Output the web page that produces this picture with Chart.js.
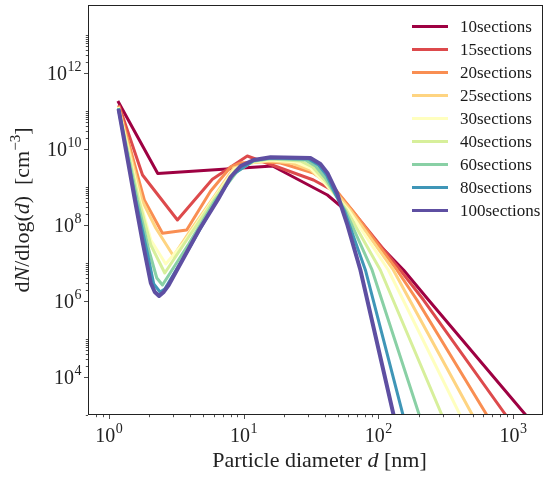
<!DOCTYPE html>
<html>
<head>
<meta charset="utf-8">
<script src="https://cdn.jsdelivr.net/npm/chart.js@4.4.0/dist/chart.umd.min.js"></script>
<style>
html, body { margin: 0; padding: 0; background: #fff; }
#wrap { position: relative; width: 544px; height: 477px; }
#legend { position: absolute; left: 412px; top: 15px; font-family: "Liberation Serif", serif; font-size: 17px; color: #1a1a1a; }
#legend .item { display: flex; align-items: center; height: 23px; white-space: nowrap; }
#legend .swatch { width: 36px; height: 3px; margin-right: 12px; }
</style>
</head>
<body>
<div id="wrap">
  <canvas id="chart" width="544" height="477"></canvas>
  <div id="legend"></div>
</div>
<script>
// series labels and colours (Spectral, 9 samples)
const sectionLabels = ['10sections', '15sections', '20sections', '25sections', '30sections', '40sections', '60sections', '80sections', '100sections'];
const sectionColors = ['#9e0142', '#dd4a4c', '#f98e52', '#fed481', '#ffffbf', '#d7ef9b', '#89d0a5', '#3f96b7', '#5e4fa2'];

// particle diameter [nm] and dN/dlog(d) [cm^-3]
const x10 = [1.166, 2.306, 16.40, 41.88, 58.63, 153.9, 235.9, 1242];
const y10 = [1.83e11, 2.26e9, 3.57e9, 6.15e8, 2.24e8, 6.55e6, 1.06e6, 1e3];

const x15 = [1.186, 1.777, 3.228, 5.864, 10.65, 33.00, 49.70, 65.28, 145.5, 216.6, 883.0];
const y15 = [1.44e11, 2.07e9, 1.355e8, 1.60e9, 6.55e9, 1.53e9, 6.95e8, 2.20e8, 6.55e6, 1.06e6, 1e3];

const x20 = [1.180, 1.832, 2.499, 3.781, 5.696, 8.013, 9.505, 13.36, 18.80, 33.00, 46.42, 65.28, 137.5, 193.5, 638.6];
const y20 = [1.355e11, 4.55e8, 6.05e7, 7.38e7, 7.85e8, 3.36e9, 4.29e9, 4.69e9, 4.29e9, 2.34e9, 1.0e9, 2.24e8, 6.55e6, 1.06e6, 1e3];

const x25 = [1.176, 1.756, 2.229, 3.015, 4.048, 6.026, 8.433, 11.86, 15.85, 22.29, 31.33, 44.07, 62.06, 129.2, 499.3];
const y25 = [1.274e11, 4.55e8, 8.34e7, 1.53e7, 7.38e7, 5.46e8, 3.16e9, 4.41e9, 4.83e9, 4.29e9, 2.80e9, 1.06e9, 2.48e8, 6.55e6, 1e3];

const x30 = [1.176, 1.697, 2.047, 2.643, 3.533, 5.893, 8.577, 11.86, 15.85, 24.28, 31.33, 40.47, 59.95, 118.6, 404.6];
const y30 = [1.274e11, 4.55e8, 4.03e7, 9.42e6, 3.16e7, 4.55e8, 2.98e9, 4.55e9, 5.14e9, 4.55e9, 3.16e9, 1.20e9, 2.48e8, 6.55e6, 1e3];

const x40 = [1.176, 1.668, 2.047, 2.600, 3.913, 5.996, 8.728, 11.86, 15.85, 26.42, 32.44, 40.47, 57.94, 103.5, 296.3];
const y40 = [1.20e11, 4.55e8, 2.98e7, 5.46e6, 4.83e7, 4.55e8, 2.80e9, 4.69e9, 5.46e9, 4.83e9, 3.36e9, 1.44e9, 2.48e8, 6.55e6, 1e3];

const x60 = [1.176, 1.626, 1.979, 2.268, 2.499, 3.913, 6.098, 8.874, 11.86, 15.85, 28.78, 34.12, 40.47, 57.02, 89.81, 201.3];
const y60 = [1.20e11, 4.55e8, 2.20e7, 4.03e6, 2.64e6, 3.16e7, 4.29e8, 2.48e9, 4.83e9, 5.62e9, 5.14e9, 3.57e9, 1.73e9, 2.34e8, 6.55e6, 1e3];

const x80 = [1.176, 1.585, 1.945, 2.154, 2.399, 2.600, 3.913, 6.256, 8.433, 11.86, 15.85, 30.30, 35.94, 41.19, 48.86, 56.01, 80.15, 152.4];
const y80 = [1.164e11, 4.55e8, 1.62e7, 2.80e6, 1.73e6, 2.07e6, 2.34e7, 4.29e8, 2.20e9, 4.98e9, 5.79e9, 5.46e9, 3.79e9, 2.07e9, 5.79e8, 2.34e8, 6.55e6, 1e3];

const x100 = [1.180, 1.545, 1.786, 2.047, 2.191, 2.359, 2.555, 2.782, 4.667, 6.417, 8.013, 9.505, 11.86, 15.85, 31.33, 37.15, 41.88, 49.70, 54.12, 58.93, 73.60, 129.8];
const y100 = [1.13e11, 5.46e8, 3.36e7, 2.98e6, 1.73e6, 1.355e6, 1.73e6, 2.64e6, 7.38e7, 4.55e8, 1.83e9, 3.57e9, 5.14e9, 6.05e9, 5.79e9, 4.03e9, 2.34e9, 6.55e8, 2.48e8, 1.0e8, 6.55e6, 1e3];

// axis limits and tick labels (base 10, exponent shown raised)
const xMin = 0.711, xMax = 1668;
const yMin = 1e3, yMax = 6.15e13;
const xMajor = [1, 10, 100, 1000];
const xMajorExp = ['0', '1', '2', '3'];
const yMajor = [1e4, 1e6, 1e8, 1e10, 1e12];
const yMajorExp = ['4', '6', '8', '10', '12'];

const seriesX = [x10, x15, x20, x25, x30, x40, x60, x80, x100];
const seriesY = [y10, y15, y20, y25, y30, y40, y60, y80, y100];

const serif = '"Liberation Serif", "DejaVu Serif", serif';

function majorIndex(v, majors) {
    return majors.findIndex(m => Math.abs(v / m - 1) < 1e-6);
}

// log ticks: majors plus minor subdivisions
function buildLogTicks(min, max, majors, evenOnly) {
    const vals = [];
    for (let e = Math.floor(Math.log10(min)); e <= Math.ceil(Math.log10(max)); e++) {
        const base = Math.pow(10, e);
        if (evenOnly && e % 2 !== 0) {
            if (base >= min && base <= max) vals.push(base);
            continue;
        }
        for (let k = 1; k <= 9; k++) {
            const v = k * base;
            if (v >= min && v <= max) vals.push(v);
        }
    }
    return vals.map(v => ({ value: v, major: majorIndex(v, majors) >= 0 }));
}

// "10" with a raised exponent
function drawPower(ctx, exp, x, y, align) {
    ctx.font = '20px ' + serif;
    const wb = ctx.measureText('10').width;
    ctx.font = '14px ' + serif;
    const we = ctx.measureText(exp).width;
    const left = align === 'center' ? x - (wb + we) / 2 : x - (wb + we);
    ctx.font = '20px ' + serif;
    ctx.fillText('10', left, y + 7);
    ctx.font = '14px ' + serif;
    ctx.fillText(exp, left + wb + 0.5, y - 2);
}

// text made of runs: [text, style] with style '', 'i' (italic) or 's' (superscript)
function drawRuns(ctx, runs, cx, cy, size) {
    const fontFor = st => (st === 'i' ? 'italic ' : '') + (st === 's' ? Math.round(size * 0.7) : size) + 'px ' + serif;
    let total = 0;
    runs.forEach(r => { ctx.font = fontFor(r[1]); total += ctx.measureText(r[0]).width; });
    let x = cx - total / 2;
    runs.forEach(r => {
        ctx.font = fontFor(r[1]);
        ctx.fillText(r[0], x, r[1] === 's' ? cy - size * 0.1 : cy + size * 0.32);
        x += ctx.measureText(r[0]).width;
    });
}

const xTitleRuns = [['Particle diameter ', ''], ['d', 'i'], [' [nm]', '']];
const yTitleRuns = [['d', ''], ['N', 'i'], ['/dlog(', ''], ['d', 'i'], [')  [cm', ''], ['\u22123', 's'], [']', '']];

// frame, outward ticks, tick labels and axis titles like matplotlib
const framePlugin = {
    id: 'frame',
    afterDraw(chart) {
        const { ctx, chartArea: a, scales } = chart;
        ctx.save();
        ctx.strokeStyle = '#222';
        ctx.lineWidth = 1;
        ctx.strokeRect(a.left + 0.5, a.top + 0.5, a.right - a.left - 1, a.bottom - a.top - 1);
        ctx.lineWidth = 0.8;
        ctx.beginPath();
        scales.x.ticks.forEach(t => {
            const p = Math.round(scales.x.getPixelForValue(t.value)) + 0.5;
            const len = t.major ? 4 : 2.2;
            ctx.moveTo(p, a.bottom);
            ctx.lineTo(p, a.bottom + len);
        });
        scales.y.ticks.forEach(t => {
            const p = Math.round(scales.y.getPixelForValue(t.value)) + 0.5;
            const len = t.major ? 4 : 2.2;
            ctx.moveTo(a.left, p);
            ctx.lineTo(a.left - len, p);
        });
        ctx.stroke();

        ctx.fillStyle = '#222';
        ctx.textBaseline = 'alphabetic';
        ctx.textAlign = 'left';
        xMajor.forEach((v, i) => {
            drawPower(ctx, xMajorExp[i], scales.x.getPixelForValue(v), a.bottom + 20, 'center');
        });
        yMajor.forEach((v, i) => {
            drawPower(ctx, yMajorExp[i], a.left - 7, scales.y.getPixelForValue(v), 'right');
        });

        drawRuns(ctx, xTitleRuns, (a.left + a.right) / 2 + 4, a.bottom + 45, 22);
        ctx.save();
        ctx.translate(22, (a.top + a.bottom) / 2);
        ctx.rotate(-Math.PI / 2);
        drawRuns(ctx, yTitleRuns, 0, 0, 22);
        ctx.restore();
        ctx.restore();
    }
};

const datasets = sectionLabels.map((label, i) => ({
    label: label,
    data: seriesX[i].map((x, j) => ({ x: x, y: seriesY[i][j] })),
    borderColor: sectionColors[i],
    backgroundColor: sectionColors[i],
    borderWidth: i === sectionLabels.length - 1 ? 4 : 3,
    borderJoinStyle: 'round',
    pointRadius: 0,
    tension: 0,
    fill: false,
    clip: 0,
    order: sectionLabels.length - i
}));

new Chart(document.getElementById('chart'), {
    type: 'line',
    data: { datasets: datasets },
    options: {
        responsive: false,
        animation: false,
        events: [],
        devicePixelRatio: 1,
        layout: { padding: { top: 5, right: 1, left: 0, bottom: 0 } },
        plugins: { legend: { display: false }, tooltip: { enabled: false } },
        scales: {
            x: {
                type: 'logarithmic',
                min: xMin,
                max: xMax,
                afterBuildTicks: scale => { scale.ticks = buildLogTicks(xMin, xMax, xMajor, false); },
                afterFit: scale => { scale.height = 62; },
                grid: { display: false, drawTicks: false },
                border: { display: false },
                ticks: { display: false, autoSkip: false }
            },
            y: {
                type: 'logarithmic',
                min: yMin,
                max: yMax,
                afterBuildTicks: scale => { scale.ticks = buildLogTicks(yMin, yMax, yMajor, true); },
                afterFit: scale => { scale.width = 88; },
                grid: { display: false, drawTicks: false },
                border: { display: false },
                ticks: { display: false, autoSkip: false }
            }
        }
    },
    plugins: [framePlugin]
});

// legend drawn as html, from the same label/colour arrays
const legendEl = document.getElementById('legend');
sectionLabels.forEach((label, i) => {
    const item = document.createElement('div');
    item.className = 'item';
    const sw = document.createElement('span');
    sw.className = 'swatch';
    sw.style.background = sectionColors[i];
    const txt = document.createElement('span');
    txt.textContent = label;
    item.appendChild(sw);
    item.appendChild(txt);
    legendEl.appendChild(item);
});
</script>
</body>
</html>
